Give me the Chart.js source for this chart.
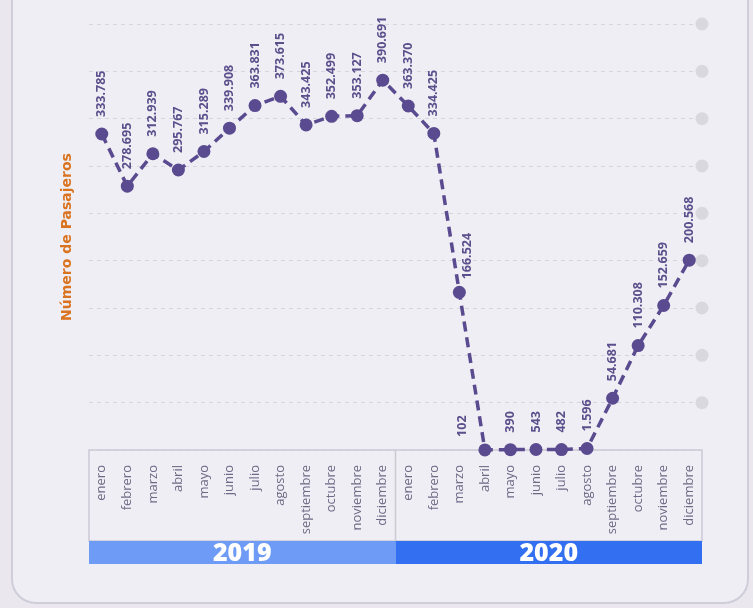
<!DOCTYPE html>
<html>
<head>
<meta charset="utf-8">
<script src="https://cdn.jsdelivr.net/npm/chart.js@4/dist/chart.umd.min.js"></script>
<style>
  html, body { margin: 0; padding: 0; background: #eae8ee; }
  canvas { display: block; }
</style>
</head>
<body>
<canvas id="grafico" width="753" height="608"></canvas>
<script>
// Meses del eje X (se repiten para cada año)
const meses = ['enero', 'febrero', 'marzo', 'abril', 'mayo', 'junio',
  'julio', 'agosto', 'septiembre', 'octubre', 'noviembre', 'diciembre'];
const anios = ['2019', '2020'];

// Número de pasajeros por mes
const pasajeros2019 = [333785, 278695, 312939, 295767, 315289, 339908,
  363831, 373615, 343425, 352499, 353127, 390691];
const pasajeros2020 = [363370, 334425, 166524, 102, 390, 543,
  482, 1596, 54681, 110308, 152659, 200568];

const etiquetas = [...meses, ...meses];
const valores = [...pasajeros2019, ...pasajeros2020];

const MORADO = '#5a4a8f';
const FUENTE = '"Open Sans", "DejaVu Sans", sans-serif';

// Formato con punto como separador de miles
function formatoMiles(v) {
  return String(v).replace(/\B(?=(\d{3})+(?!\d))/g, '.');
}

// Tarjeta de fondo con esquinas redondeadas
const fondoTarjeta = {
  id: 'fondoTarjeta',
  beforeDraw(chart) {
    const ctx = chart.ctx;
    ctx.save();
    ctx.fillStyle = '#eae8ee';
    ctx.fillRect(0, 0, chart.width, chart.height);
    ctx.beginPath();
    ctx.roundRect(12, -30, 736, 633, 24);
    ctx.fillStyle = '#efeef4';
    ctx.fill();
    ctx.lineWidth = 2;
    ctx.strokeStyle = '#cfcdd7';
    ctx.stroke();
    ctx.restore();
  }
};

// Desplazamientos de algunas etiquetas para que no pisen la línea
const ajusteEtiqueta = { 14: [8, 13], 15: [-22, 13] };

// Caja de meses, bandas de año y puntos grises al final de cada línea guía
const decoracionEjes = {
  id: 'decoracionEjes',
  beforeDatasetsDraw(chart) {
    const ctx = chart.ctx;
    const area = chart.chartArea;
    const x = chart.scales.x;
    const y = chart.scales.y;
    ctx.save();

    // puntos grises a la derecha de cada línea guía
    ctx.fillStyle = '#d9d8de';
    y.ticks.forEach(t => {
      if (t.value === 0) return;
      ctx.beginPath();
      ctx.arc(area.right, y.getPixelForValue(t.value), 6.5, 0, Math.PI * 2);
      ctx.fill();
    });

    // caja de las etiquetas de meses
    const cajaTop = area.bottom;
    const cajaBottom = area.bottom + 91;
    const divisor = (x.getPixelForValue(11) + x.getPixelForValue(12)) / 2;
    ctx.strokeStyle = '#cbc9d4';
    ctx.lineWidth = 1.5;
    ctx.strokeRect(area.left, cajaTop, area.right - area.left, cajaBottom - cajaTop);
    ctx.beginPath();
    ctx.moveTo(divisor, cajaTop);
    ctx.lineTo(divisor, cajaBottom);
    ctx.stroke();

    // bandas de año
    const bandaAlto = 23;
    const colores = ['#6e9bf5', '#326ff1'];
    const limites = [[area.left, divisor], [divisor, area.right]];
    anios.forEach((anio, i) => {
      const [x0, x1] = limites[i];
      ctx.fillStyle = colores[i];
      ctx.fillRect(x0, cajaBottom, x1 - x0, bandaAlto);
      ctx.fillStyle = '#ffffff';
      ctx.font = '800 25px ' + FUENTE;
      ctx.textAlign = 'center';
      ctx.textBaseline = 'middle';
      ctx.fillText(anio, (x0 + x1) / 2, cajaBottom + bandaAlto / 2 + 1);
    });
    ctx.restore();
  },
  // valores de cada punto, en vertical
  afterDatasetsDraw(chart) {
    const ctx = chart.ctx;
    const meta = chart.getDatasetMeta(0);
    const datos = chart.data.datasets[0].data;
    ctx.save();
    ctx.fillStyle = '#5b4f8c';
    ctx.font = 'bold 12.5px ' + FUENTE;
    ctx.textAlign = 'left';
    ctx.textBaseline = 'middle';
    meta.data.forEach((p, i) => {
      const [dx, dy] = ajusteEtiqueta[i] || [0, 17];
      ctx.save();
      ctx.translate(p.x + dx, p.y - dy);
      ctx.rotate(-Math.PI / 2);
      ctx.fillText(formatoMiles(datos[i]), 0, 0);
      ctx.restore();
    });
    ctx.restore();
  }
};

new Chart(document.getElementById('grafico'), {
  type: 'line',
  data: {
    labels: etiquetas,
    datasets: [{
      data: valores,
      borderColor: MORADO,
      backgroundColor: MORADO,
      borderWidth: 3.5,
      borderDash: [10, 6],
      pointRadius: 6.5,
      pointHoverRadius: 6.5,
      pointBorderWidth: 0,
      pointBackgroundColor: MORADO,
      tension: 0,
      clip: false
    }]
  },
  options: {
    responsive: false,
    animation: false,
    layout: { padding: { left: 55, right: 51, top: 24, bottom: 44 } },
    plugins: { legend: { display: false }, tooltip: { enabled: false } },
    scales: {
      x: {
        type: 'category',
        offset: true,
        grid: { display: false },
        border: { display: false },
        ticks: {
          autoSkip: false,
          minRotation: 90,
          maxRotation: 90,
          padding: 7,
          color: '#6e6a86',
          font: { family: FUENTE, size: 13 }
        },
        afterFit(s) { s.height = 114; }
      },
      y: {
        min: 0,
        max: 450000,
        ticks: { display: false, stepSize: 50000 },
        grid: { color: '#d6d4dd', lineWidth: 1, drawTicks: false },
        border: { display: false, dash: [4, 4] },
        title: {
          display: true,
          text: 'Número de Pasajeros',
          color: '#d9731f',
          font: { family: '"DejaVu Sans", sans-serif', size: 14, weight: 'bold' },
          padding: { top: 4, bottom: 4 }
        },
        afterFit(s) { s.width = 34; }
      }
    }
  },
  plugins: [fondoTarjeta, decoracionEjes]
});
</script>
</body>
</html>
